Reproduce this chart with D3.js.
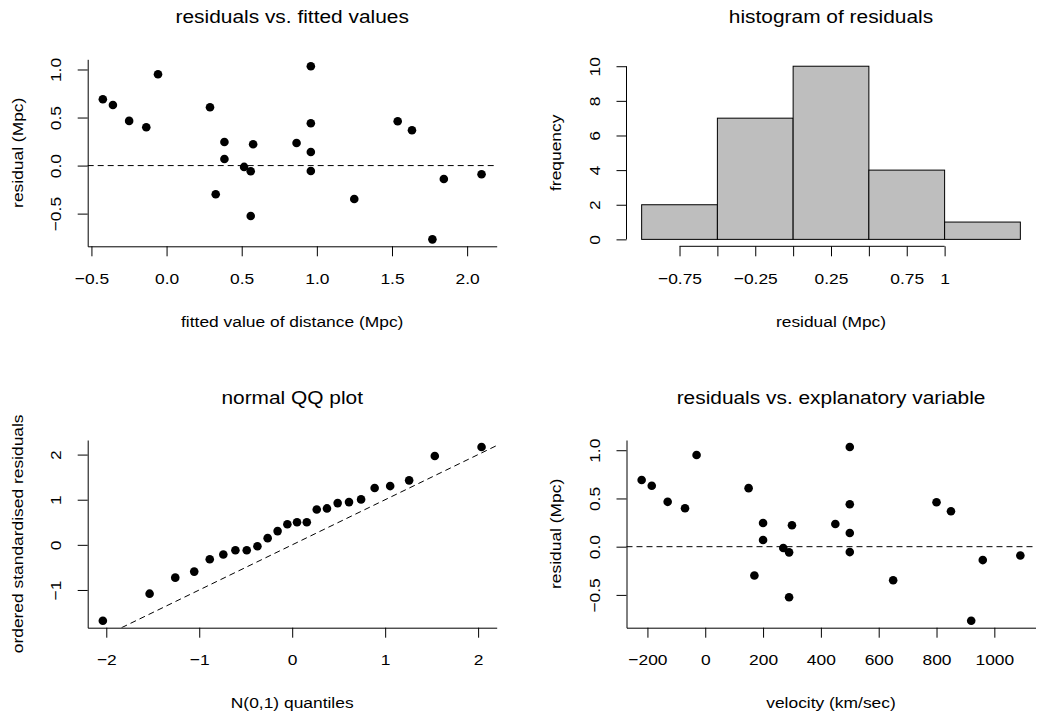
<!DOCTYPE html>
<html><head><meta charset="utf-8">
<script src="https://cdn.jsdelivr.net/npm/d3@7"></script>
<style>
body{margin:0;background:#fff}
svg{display:block}
text{font-family:"Liberation Sans",Arial,sans-serif;fill:#000}
</style>
</head><body>
<svg id="c" width="1052" height="722"></svg>
<script>
// ---- data ----
const velocity = [-220,-185,-130,-70,-30,150,170,200,200,270,290,290,300,450,500,500,500,500,650,800,850,920,960,1090];
const fitted   = [-0.424,-0.357,-0.249,-0.135,-0.057,0.289,0.327,0.385,0.385,0.516,0.56,0.56,0.576,0.865,0.96,0.96,0.96,0.96,1.249,1.538,1.633,1.769,1.845,2.096];
const residual = [0.691,0.631,0.465,0.399,0.951,0.607,-0.299,0.246,0.069,-0.014,-0.059,-0.525,0.222,0.235,1.034,0.44,0.142,-0.056,-0.348,0.461,0.368,-0.768,-0.139,-0.091];
const qqTheoretical = [-2.037,-1.534,-1.258,-1.054,-0.887,-0.741,-0.611,-0.489,-0.374,-0.264,-0.157,-0.052,0.052,0.157,0.264,0.374,0.489,0.611,0.741,0.887,1.054,1.258,1.534,2.037];
const qqSample = [-1.682,-1.082,-0.727,-0.593,-0.319,-0.215,-0.119,-0.119,-0.03,0.148,0.304,0.457,0.502,0.502,0.784,0.807,0.925,0.947,1.007,1.258,1.302,1.429,1.969,2.169];
const histBreaks = [-1,-0.5,0,0.5,1,1.5];
const histCounts = [2,7,10,4,1];

const fitTicks = [-0.5,0,0.5,1,1.5,2];
const resTicks = [-0.5,0,0.5,1];
const histXTicks = [-0.75,-0.5,-0.25,0,0.25,0.5,0.75,1];
const histXLabels = ["\u22120.75","","\u22120.25","","0.25","","0.75","1"];
const histYTicks = [0,2,4,6,8,10];
const qqXTicks = [-2,-1,0,1,2];
const qqYTicks = [-1,0,1,2];
const velTicks = [-200,0,200,400,600,800,1000];

const titles = ["residuals vs. fitted values","histogram of residuals","normal QQ plot","residuals vs. explanatory variable"];

// ---- layout ----
const SX = 1.13, FS = 15.4, FT = 18.5, TICK = 10;
const cols = [[87.7,496.7],[626.5,1035.5]];
const rows = [[59.3,246.3],[440,627.7]];
const svg = d3.select("#c");

function pad(ext){const r=ext[1]-ext[0];return [ext[0]-0.04*r, ext[1]+0.04*r];}
function hText(x,y,s,size){
  return svg.append("text").attr("transform",`translate(${x},${y}) scale(${SX},1)`)
    .attr("text-anchor","middle").style("font-size",size+"px").text(s);
}
function vText(x,y,s,size){
  return svg.append("text").attr("transform",`translate(${x},${y}) rotate(-90) scale(${SX},1)`)
    .attr("text-anchor","middle").style("font-size",size+"px").text(s);
}
function styleBottom(g){
  g.attr("font-family",null).attr("font-size",null);
  g.selectAll(".tick text").attr("y",null).attr("dy",null)
    .attr("transform",`translate(0,37.5) scale(${SX},1)`).style("font-size",FS+"px");
}
function styleLeft(g){
  g.attr("font-family",null).attr("font-size",null);
  g.selectAll(".tick text").attr("x",null).attr("dy",null).attr("text-anchor","middle")
    .attr("transform",`translate(-27,0) rotate(-90) scale(${SX},1)`).style("font-size",FS+"px");
}

function scatterPanel(ci, ri, xs, ys, xTicks, xFmt, yTicks, yFmt, title, xlab, ylab, refLine){
  const [x0,x1]=cols[ci],[y0,y1]=rows[ri];
  const x=d3.scaleLinear().domain(pad(d3.extent(xs))).range([x0,x1]);
  const y=d3.scaleLinear().domain(pad(d3.extent(ys))).range([y1,y0]);
  const clipId="clip"+ci+ri;
  svg.append("clipPath").attr("id",clipId).append("rect").attr("x",x0).attr("y",y0).attr("width",x1-x0).attr("height",y1-y0);
  // reference line
  if(refLine==="h0"){
    svg.append("line").attr("x1",x0).attr("x2",x1).attr("y1",y(0)).attr("y2",y(0))
      .attr("stroke","#000").attr("stroke-dasharray","6,4").attr("stroke-width",1);
  } else if(refLine==="diag"){
    const lo=Math.max(x.domain()[0],y.domain()[0]), hi=Math.min(x.domain()[1],y.domain()[1]);
    svg.append("line").attr("clip-path",`url(#${clipId})`)
      .attr("x1",x(lo)).attr("y1",y(lo)).attr("x2",x(hi)).attr("y2",y(hi))
      .attr("stroke","#000").attr("stroke-dasharray","6,4").attr("stroke-width",1);
  }
  const gx=svg.append("g").attr("transform",`translate(0,${y1})`)
    .call(d3.axisBottom(x).tickValues(xTicks).tickFormat(xFmt).tickSize(TICK).tickSizeOuter(0));
  styleBottom(gx);
  const gy=svg.append("g").attr("transform",`translate(${x0},0)`)
    .call(d3.axisLeft(y).tickValues(yTicks).tickFormat(yFmt).tickSize(TICK).tickSizeOuter(0));
  styleLeft(gy);
  svg.append("g").selectAll("circle").data(xs).join("circle")
    .attr("cx",(d)=>x(d)).attr("cy",(d,i)=>y(ys[i])).attr("r",4.3).attr("fill","#000");
  const cx=(x0+x1)/2;
  hText(cx, y1-223.6, title, FT);
  hText(cx, y1+80.2, xlab, FS);
  vText(x0-65.2, (y0+y1)/2, ylab, FS);
}

const f1=d3.format(".1f"), f0=d3.format("d");

scatterPanel(0,0,fitted,residual,fitTicks,f1,resTicks,f1,titles[0],"fitted value of distance (Mpc)","residual (Mpc)","h0");
scatterPanel(0,1,qqTheoretical,qqSample,qqXTicks,f0,qqYTicks,f0,titles[2],"N(0,1) quantiles","ordered standardised residuals","diag");
scatterPanel(1,1,velocity,residual,velTicks,f0,resTicks,f1,titles[3],"velocity (km/sec)","residual (Mpc)","h0");

// ---- histogram ----
(function(){
  const [x0,x1]=cols[1],[y0,y1]=rows[0];
  const x=d3.scaleLinear().domain(pad(d3.extent(histBreaks))).range([x0,x1]);
  const y=d3.scaleLinear().domain(pad([0,d3.max(histCounts)])).range([y1,y0]);
  svg.append("g").selectAll("rect").data(histCounts).join("rect")
    .attr("x",(d,i)=>x(histBreaks[i])).attr("width",(d,i)=>x(histBreaks[i+1])-x(histBreaks[i]))
    .attr("y",d=>y(d)).attr("height",d=>y(0)-y(d))
    .attr("fill","#bebebe").attr("stroke","#000").attr("stroke-width",1);
  const gx=svg.append("g").attr("transform",`translate(0,${y1})`)
    .call(d3.axisBottom(x).tickValues(histXTicks).tickFormat((d,i)=>histXLabels[i]).tickSize(TICK).tickSizeOuter(0));
  gx.select(".domain").remove();
  styleBottom(gx);
  svg.append("line").attr("x1",x(histXTicks[0])).attr("x2",x(histXTicks[histXTicks.length-1]))
    .attr("y1",y1).attr("y2",y1).attr("stroke","#000");
  const gy=svg.append("g").attr("transform",`translate(${x0},0)`)
    .call(d3.axisLeft(y).tickValues(histYTicks).tickFormat(f0).tickSize(TICK).tickSizeOuter(0));
  gy.select(".domain").remove();
  styleLeft(gy);
  svg.append("line").attr("x1",x0).attr("x2",x0).attr("y1",y(histYTicks[0])).attr("y2",y(histYTicks[histYTicks.length-1])).attr("stroke","#000");
  const cx=(x0+x1)/2;
  hText(cx, y1-223.6, titles[1], FT);
  hText(cx, y1+80.2, "residual (Mpc)", FS);
  vText(x0-65.2, (y0+y1)/2, "frequency", FS);
})();
</script>
</body></html>
